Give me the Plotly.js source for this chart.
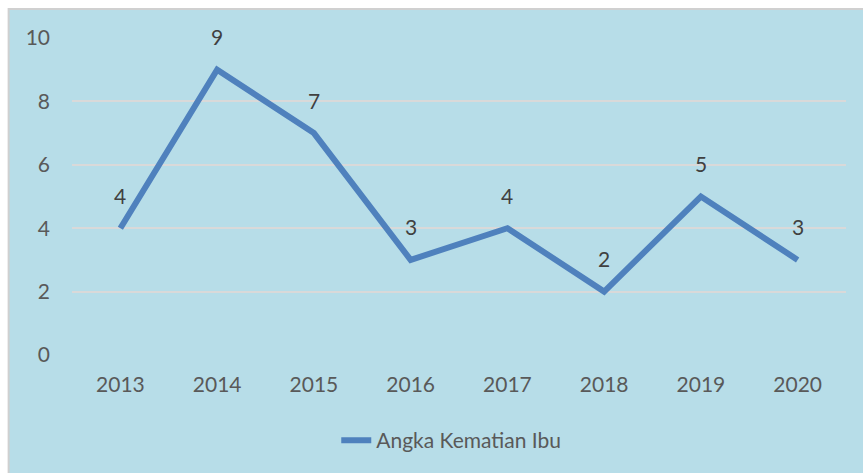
<!DOCTYPE html>
<html><head><meta charset="utf-8">
<script src="https://cdn.plot.ly/plotly-3.0.1.min.js"></script>
<style>html,body{margin:0;padding:0;background:#fff;}#chart{width:863px;height:473px;}</style>
</head><body><div id="chart"></div>
<script>
const years = ['2013','2014','2015','2016','2017','2018','2019','2020'];
const deaths = [4, 9, 7, 3, 4, 2, 5, 3];
const seriesName = 'Angka Kematian Ibu';
const yTicks = [0, 2, 4, 6, 8, 10];

const FONT = 'Lato, "Open Sans", sans-serif';
const annotations = years.map((y, i) => ({
  x: i, y: deaths[i], text: String(deaths[i]), showarrow: false,
  yshift: 33, font: {family: FONT, size: 21, color: '#404040'}
}));

const trace = {
  x: years, y: deaths, name: seriesName, type: 'scatter', mode: 'lines',
  line: {color: '#4f81bd', width: 6}, showlegend: true
};

const layout = {
  width: 863, height: 473,
  margin: {l: 71.5, r: 16.5, t: 38, b: 118},
  paper_bgcolor: '#ffffff', plot_bgcolor: 'rgba(0,0,0,0)',
  font: {family: FONT, size: 21, color: '#595959'},
  xaxis: {type: 'category', showgrid: false, zeroline: false, showline: false,
          ticks: '', ticklabelstandoff: 15, range: [-0.5, 7.5]},
  yaxis: {range: [0, 10], tickvals: yTicks, showgrid: true, gridcolor: '#d9d9d9', gridwidth: 2,
          zeroline: false, showline: false, ticks: '', ticklabelstandoff: 21, fixedrange: true},
  showlegend: true,
  legend: {orientation: 'h', x: 0.49, xanchor: 'center', y: -0.27, yanchor: 'middle',
           font: {family: FONT, size: 21, color: '#595959'}, bgcolor: 'rgba(0,0,0,0)'},
  shapes: [{type: 'rect', xref: 'paper', yref: 'paper', layer: 'below',
            x0: -0.0819, x1: 1.2, y0: -0.6, y1: 1.0915,
            fillcolor: '#b7dde8', line: {color: '#d0d0d0', width: 2}}],
  annotations: annotations
};

Plotly.newPlot('chart', [trace], layout, {displayModeBar: false, staticPlot: true});
</script></body></html>
